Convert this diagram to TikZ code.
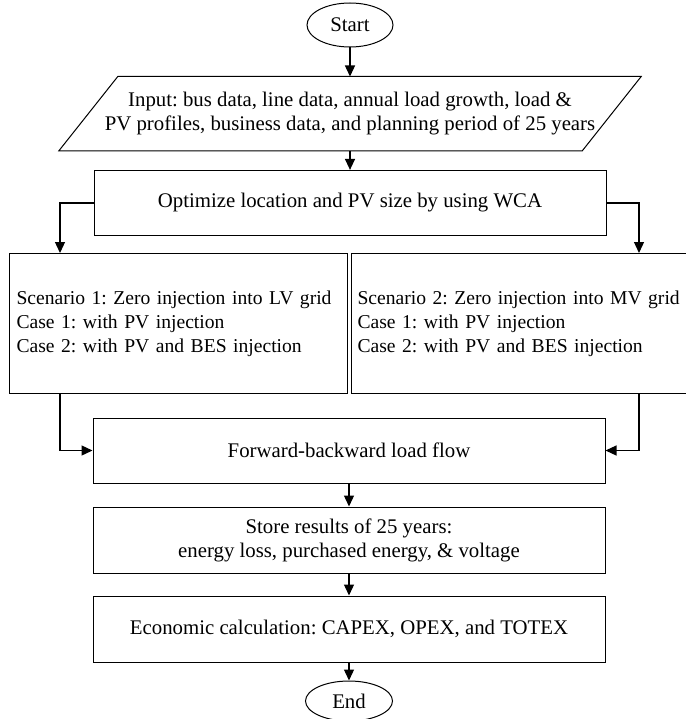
\documentclass[tikz,border=0pt]{standalone}
\usepackage{fontspec}
\setmainfont{Liberation Serif}
\frenchspacing
\usetikzlibrary{positioning, shapes.geometric, arrows.meta}
\tikzset{
>={Triangle[length=11pt, width=10pt]}, % filled arrow heads
every node/.style={font=\fontsize{20.8}{24}\selectfont}, % text size of all nodes
term/.style={ellipse, draw, line width=1pt, minimum width=86pt, minimum height=44pt, inner sep=0pt}, % start and end
block/.style={rectangle, draw, line width=1pt, minimum width=512pt, minimum height=65pt, align=center}, % process boxes
scen/.style={rectangle, draw, line width=1pt, minimum height=140pt, inner xsep=7pt, text width=324pt, align=left,
  anchor=north west, font=\fontsize{19.6}{24}\selectfont}, % the two scenarios
flow/.style={->, line width=1.3pt}, % connectors
}
\begin{document}
\begin{tikzpicture}[x=1pt, y=-1pt]
    \useasboundingbox (0,0) rectangle (685,719);

    \node[term] (start) at (350,25) {Start};
    \node[rectangle, minimum width=523pt, minimum height=74pt, align=center, below=29pt of start] (in)
        {Input: bus data, line data, annual load growth, load \&\\PV profiles, business data, and planning period of 25 years};
    \draw[line width=1pt] ([xshift=29.5pt]in.north west) -- ([xshift=29.5pt]in.north east)
        -- ([xshift=-29.5pt]in.south east) -- ([xshift=-29.5pt]in.south west) -- cycle;
    \node[block, below=19pt of in] (opt) {Optimize location and PV size by using WCA};

    \node[scen] (sc1) at (9,253)
        {Scenario 1: Zero injection into LV grid\\Case 1: with PV injection\\Case 2: with PV and BES injection};
    \node[scen, inner xsep=6pt, text width=330pt] (sc2) at (351,253)
        {Scenario 2: Zero injection into MV grid\\Case 1: with PV injection\\Case 2: with PV and BES injection};

    \node[block] (fwd) at (349,450.5) {Forward-backward load flow};
    \node[block, minimum height=66pt, below=23pt of fwd] (store) {Store results of 25 years:\\energy loss, purchased energy, \& voltage};
    \node[block, minimum height=66pt, below=22pt of store] (eco) {Economic calculation: CAPEX, OPEX, and TOTEX};
    \node[term, minimum height=40pt, minimum width=87pt, below=18pt of eco] (end) {End};

    \coordinate (lb) at (60,0);
    \coordinate (rb) at (639,0);

    \draw[flow] (start) -- (in);
    \draw[flow] (in) -- (opt);
    \draw[flow] (opt.west) -| (lb |- sc1.north);
    \draw[flow] (opt.east) -| (rb |- sc2.north);
    \draw[flow] (lb |- sc1.south) |- (fwd.west);
    \draw[flow] (rb |- sc2.south) |- (fwd.east);
    \draw[flow] (fwd) -- (store);
    \draw[flow] (store) -- (eco);
    \draw[flow] (eco) -- (end);
\end{tikzpicture}
\end{document}
